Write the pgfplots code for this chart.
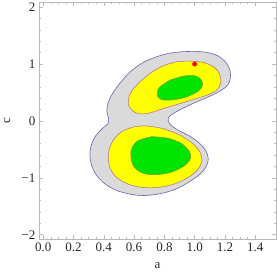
\documentclass[border=0pt]{standalone}
\usepackage{pgfplots}
\pgfplotsset{compat=1.18}
\usepackage{fontspec}
\setmainfont{Liberation Serif}
\definecolor{cgray}{RGB}{218,218,218}
\definecolor{cblue}{RGB}{100,100,175}
\definecolor{cyel}{RGB}{255,255,0}
\definecolor{cyelline}{RGB}{170,110,140}
\definecolor{cgreen}{RGB}{0,228,0}
\definecolor{cgreenline}{RGB}{120,150,60}
\definecolor{framegray}{RGB}{185,185,185}
\begin{document}
\begin{tikzpicture}
\path[use as bounding box] (-39pt,-37pt) rectangle (238pt,239pt);
\begin{axis}[
  scale only axis, width=237pt, height=237pt,
  xmin=-0.028, xmax=1.537, ymin=-2.075, ymax=2.09,
  axis line style={draw=framegray, line width=0.8pt},
  xtick={0,0.2,0.4,0.6,0.8,1.0,1.2,1.4},
  xticklabels={0.0,0.2,0.4,0.6,0.8,1.0,1.2,1.4},
  ytick={-2,-1,0,1,2},
  yticklabels={−2,−1,0,1,2},
  minor x tick num=3, minor y tick num=4,
  tick align=inside, tick pos=both,
  xticklabel pos=bottom, yticklabel pos=left,
  major tick length=4pt, minor tick length=2pt,
  every tick/.style={draw=framegray, line width=0.5pt},
  tick label style={font=\fontsize{13}{14}\selectfont, text=black!85},
  xticklabel style={inner sep=1pt, yshift=-2.5pt},
  yticklabel style={inner sep=1pt, xshift=-2.5pt},
  xlabel={a}, ylabel={c},
  label style={font=\fontsize{13}{14}\selectfont, text=black!85},
  xlabel style={at={(axis description cs:0.5,-0.11)}, anchor=center},
  ylabel style={at={(axis description cs:-0.135,0.5)}, anchor=center},
]
% outer (gray)
\addplot[fill=cgray, draw=cblue, line width=0.6pt, smooth, tension=0.5] coordinates {
(0.9137,1.216) (1.0128,1.222) (1.0898,1.198) (1.1559,1.140) (1.2065,1.028)
(1.2329,0.893) (1.2351,0.746) (1.2175,0.628) (1.1713,0.529) (1.1008,0.435)
(1.0128,0.335) (0.9313,0.235) (0.8697,0.147) (0.8300,0.070) (0.8256,0.0)
(0.8432,-0.076) (0.8917,-0.164) (0.9687,-0.270) (1.0348,-0.399) (1.0744,-0.529)
(1.0898,-0.664) (1.0744,-0.811) (1.0304,-0.946) (0.9577,-1.081) (0.8697,-1.204)
(0.7706,-1.280) (0.6715,-1.310) (0.5834,-1.292) (0.4844,-1.222) (0.4073,-1.104)
(0.3523,-0.957) (0.3192,-0.781) (0.3082,-0.605) (0.3170,-0.429) (0.3457,-0.264)
(0.3919,-0.129) (0.4271,-0.047) (0.4315,0.041) (0.4205,0.159) (0.4249,0.288)
(0.4447,0.423) (0.4756,0.552) (0.5174,0.699) (0.5790,0.875) (0.6605,1.028)
(0.7486,1.128) (0.8256,1.186) (0.9137,1.216)
} -- cycle;
% upper yellow
\addplot[fill=cyel, draw=cyelline, line width=0.5pt, smooth, tension=0.5] coordinates {
(0.8807,1.040) (0.9687,1.051) (1.0568,1.028) (1.1338,0.934) (1.1669,0.805)
(1.1713,0.658) (1.1449,0.540) (1.0788,0.452) (0.9908,0.376) (0.8807,0.288)
(0.7926,0.217) (0.7045,0.141) (0.6385,0.123) (0.5900,0.176) (0.5636,0.276)
(0.5636,0.394) (0.5856,0.529) (0.6275,0.658) (0.7045,0.834) (0.7926,0.969)
(0.8807,1.040)
} -- cycle;
% lower yellow
\addplot[fill=cyel, draw=cyelline, line width=0.5pt, smooth, tension=0.5] coordinates {
(0.5945,-0.106) (0.6715,-0.088) (0.7816,-0.129) (0.8917,-0.235) (0.9797,-0.382)
(1.0304,-0.529) (1.0480,-0.681) (1.0260,-0.834) (0.9621,-0.987) (0.8697,-1.104)
(0.7596,-1.169) (0.6495,-1.169) (0.5614,-1.110) (0.4844,-0.993) (0.4403,-0.822)
(0.4293,-0.617) (0.4425,-0.446) (0.4734,-0.300) (0.5218,-0.182) (0.5945,-0.106)
} -- cycle;
% upper green
\addplot[fill=cgreen, draw=cgreenline, line width=0.5pt, smooth, tension=0.5] coordinates {
(0.8366,0.717) (0.9247,0.787) (1.0018,0.793) (1.0414,0.728) (1.0524,0.628)
(1.0238,0.523) (0.9467,0.423) (0.8587,0.370) (0.7882,0.370) (0.7574,0.423)
(0.7530,0.493) (0.7662,0.587) (0.8366,0.717)
} -- cycle;
% lower green
\addplot[fill=cgreen, draw=cgreenline, line width=0.5pt, smooth, tension=0.5] coordinates {
(0.7155,-0.276) (0.8256,-0.305) (0.9137,-0.399) (0.9643,-0.535) (0.9731,-0.652)
(0.9357,-0.781) (0.8476,-0.899) (0.7376,-0.946) (0.6495,-0.910) (0.5945,-0.787)
(0.5790,-0.617) (0.5834,-0.488) (0.6231,-0.352) (0.7155,-0.276)
} -- cycle;
\addplot[only marks, mark=*, mark size=2.2pt, color=red] coordinates {(1,1)};
\end{axis}
\end{tikzpicture}
\end{document}
